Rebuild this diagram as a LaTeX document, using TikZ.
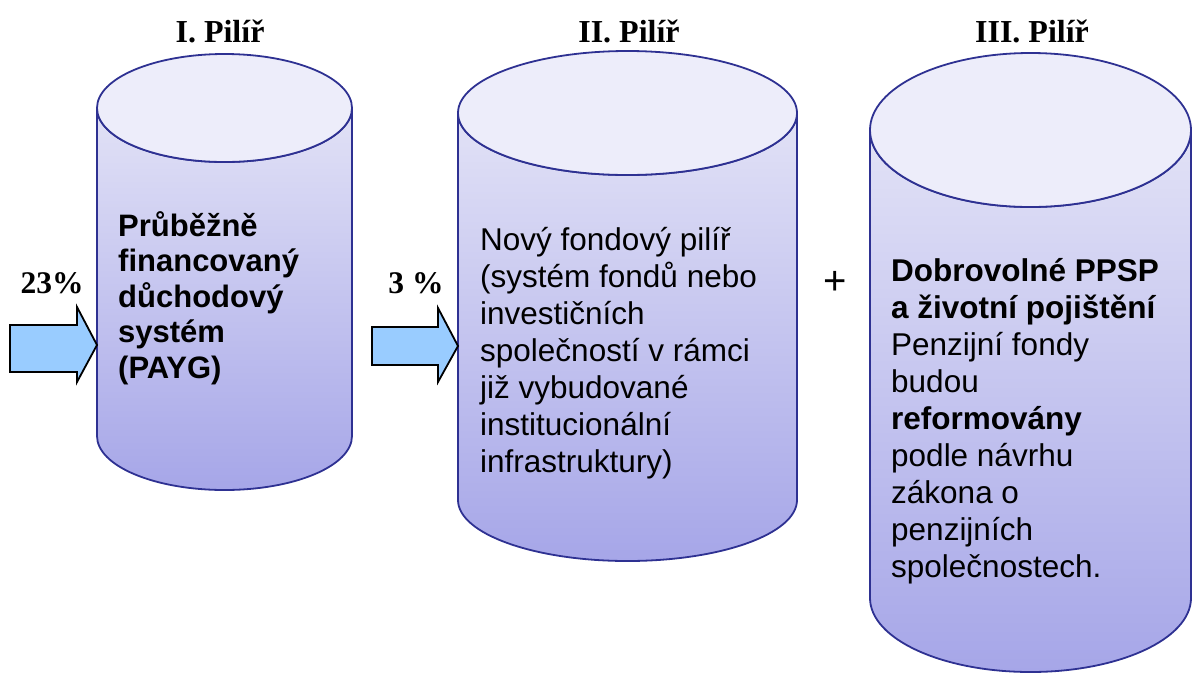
\documentclass[tikz,border=0pt]{standalone}
\usepackage{fontspec}
\setmainfont{Liberation Sans}
\newfontfamily\titlefont{Liberation Serif}
\definecolor{pillarline}{RGB}{46,49,146}
\definecolor{pillartop}{RGB}{237,237,250}
\definecolor{pillarhi}{RGB}{226,226,246}
\definecolor{pillarlo}{RGB}{166,166,232}
\definecolor{inflowfill}{RGB}{153,204,255}

\begin{document}
\begin{tikzpicture}[
  x=1pt,y=-1pt,
  pillar/.style={draw=pillarline,line width=1.8pt,top color=pillarhi,bottom color=pillarlo},
  lid/.style={draw=pillarline,line width=1.8pt,fill=pillartop},
  inflow/.style={draw=black,line width=1.8pt,fill=inflowfill,line join=miter},
  title/.style={font=\titlefont\bfseries\fontsize{32}{38}\selectfont,anchor=base},
  rate/.style={font=\titlefont\bfseries\fontsize{31.5}{36}\selectfont,anchor=base},
  body/.style={align=left,anchor=north west,inner sep=0pt},
  ]
  \useasboundingbox (0,0) rectangle (1197,673);

  \foreach \n/\l/\r/\t/\b/\rt/\rb in {1/97/352/108/436/54/54,
      2/458/797/113/500/62/61, 3/870/1191/130/598/77/74} {
    \path[pillar] (\l,\t) -- (\l,\b)
      arc[start angle=180,end angle=0,x radius={(\r-\l)/2},y radius=\rb]
      -- (\r,\t)
      arc[start angle=0,end angle=180,x radius={(\r-\l)/2},y radius=\rt] -- cycle;
    \path[lid] ({(\l+\r)/2},\t) ellipse[x radius={(\r-\l)/2},y radius=\rt];
  }

  \coordinate (tip1) at (97,345);
  \coordinate (tip2) at (458,346);
  \foreach \n/\ht/\bt/\bb/\hb/\len in {1/307/325/372/382/67, 2/308/327/365/382/66} {
    \path (tip\n) ++(-20,0) coordinate (neck);
    \draw[inflow] (tip\n) -- (neck |- 0,\ht) -- (neck |- 0,\bt) -- ++(-\len,0)
      -- ++(0,\bb-\bt) -- (neck |- 0,\bb) -- (neck |- 0,\hb) -- cycle;
  }

  \node[title] (title1) at (220,42) {I. Pilíř};
  \node[title] (title2) at (629,42) {II. Pilíř};
  \node[title] (title3) at (1032,42) {III. Pilíř};

  \node[rate] (rate1) at (52,293) {23\%};
  \node[rate] (rate2) at (416,293) {3 \%};
  \node[font=\fontsize{40}{48}\selectfont] (plus) at (835,283) {+};

  \node[body,font=\bfseries\fontsize{31}{35.5}\selectfont] (text1) at (118,211)
    {Průběžně\\financovaný\\důchodový\\systém\\(PAYG)};
  \node[body,font=\fontsize{31.5}{37}\selectfont] (text2) at (480,227)
    {Nový fondový pilíř\\(systém fondů nebo\\investičních\\společností v rámci\\
     již vybudované\\institucionální\\infrastruktury)};
  \node[body,font=\fontsize{31.5}{37}\selectfont] (text3) at (891,258)
    {\textbf{Dobrovolné PPSP}\\\textbf{a životní pojištění}\\Penzijní fondy\\budou\\
     \textbf{reformovány}\\podle návrhu\\zákona o\\penzijních\\společnostech.};
\end{tikzpicture}
\end{document}
